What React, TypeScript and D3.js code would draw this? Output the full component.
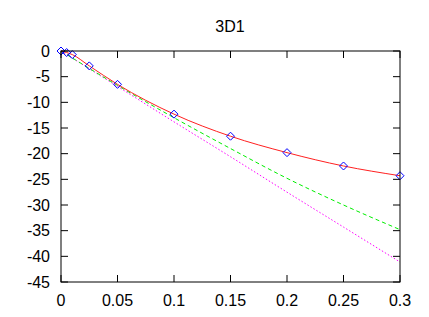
import React, { useEffect, useRef } from 'react';
import * as d3 from 'd3';

// measured points (marked with diamonds)
const measX = [0, 0.005, 0.01, 0.025, 0.05, 0.1, 0.15, 0.2, 0.25, 0.3];
const measY = [0, -0.3, -0.7, -2.9, -6.5, -12.3, -16.6, -19.8, -22.4, -24.3];

// approximation curves
const approxX = [0, 0.05, 0.1, 0.15, 0.2, 0.25, 0.3];
const greenY = [0, -6.7, -13.0, -19.0, -24.8, -30.0, -34.8];
const magentaY = [0, -6.9, -13.8, -20.6, -27.5, -34.3, -41.1];

const xTicks = [0, 0.05, 0.1, 0.15, 0.2, 0.25, 0.3];
const yTicks = [0, -5, -10, -15, -20, -25, -30, -35, -40, -45];

const App: React.FC = () => {
  const svgRef = useRef<SVGSVGElement>(null);

  useEffect(() => {
    if (!svgRef.current) return;
    const svg = d3.select(svgRef.current);
    svg.selectAll('*').remove();

    const left = 61, right = 400, top = 51, bottom = 282;
    const x = d3.scaleLinear().domain([0, 0.3]).range([left, right]);
    const y = d3.scaleLinear().domain([-45, 0]).range([bottom, top]);
    const font = 'Liberation Sans, Arial, sans-serif';
    const tick = 7;

    // title
    svg.append('text')
      .attr('x', 230).attr('y', 32)
      .attr('text-anchor', 'middle')
      .style('font-family', font).style('font-size', '16px')
      .text('3D1');

    const lineFn = (xs: number[], ys: number[], curve: d3.CurveFactory) =>
      d3.line<number>().x((d) => x(xs[d])).y((d) => y(ys[d])).curve(curve)(d3.range(xs.length));

    // curves
    svg.append('path')
      .attr('d', lineFn(approxX, magentaY, d3.curveMonotoneX))
      .attr('fill', 'none').attr('stroke', '#ff00ff').attr('stroke-width', 1)
      .attr('stroke-dasharray', '1.5,2');
    svg.append('path')
      .attr('d', lineFn(approxX, greenY, d3.curveMonotoneX))
      .attr('fill', 'none').attr('stroke', '#00ee00').attr('stroke-width', 1)
      .attr('stroke-dasharray', '4,3');
    svg.append('path')
      .attr('d', lineFn(measX, measY, d3.curveMonotoneX))
      .attr('fill', 'none').attr('stroke', '#ff2020').attr('stroke-width', 1);

    // diamonds
    svg.append('g').selectAll('path')
      .data(d3.range(measX.length))
      .enter().append('path')
      .attr('transform', (i) => `translate(${x(measX[i])},${y(measY[i])})`)
      .attr('d', 'M0,-4L4,0L0,4L-4,0Z')
      .attr('fill', 'none').attr('stroke', '#0000ff').attr('stroke-width', 1);

    // border
    svg.append('rect')
      .attr('x', left).attr('y', top)
      .attr('width', right - left).attr('height', bottom - top)
      .attr('fill', 'none').attr('stroke', '#000').attr('stroke-width', 1);

    // x ticks (bottom and top)
    const gx = svg.append('g');
    xTicks.forEach((t) => {
      gx.append('line').attr('x1', x(t)).attr('x2', x(t)).attr('y1', bottom).attr('y2', bottom - tick).attr('stroke', '#000');
      gx.append('line').attr('x1', x(t)).attr('x2', x(t)).attr('y1', top).attr('y2', top + tick).attr('stroke', '#000');
      gx.append('text')
        .attr('x', x(t)).attr('y', bottom + 24)
        .attr('text-anchor', 'middle')
        .style('font-family', font).style('font-size', '16px')
        .text(String(t));
    });

    // y ticks (left and right)
    const gy = svg.append('g');
    yTicks.forEach((t) => {
      gy.append('line').attr('x1', left).attr('x2', left + tick).attr('y1', y(t)).attr('y2', y(t)).attr('stroke', '#000');
      gy.append('line').attr('x1', right).attr('x2', right - tick).attr('y1', y(t)).attr('y2', y(t)).attr('stroke', '#000');
      gy.append('text')
        .attr('x', left - 11).attr('y', y(t))
        .attr('dy', '0.36em')
        .attr('text-anchor', 'end')
        .style('font-family', font).style('font-size', '16px')
        .text(String(t));
    });
  }, []);

  return (
    <svg ref={svgRef} width={429} height={317}
      style={{ position: 'absolute', left: 0, top: 0, background: '#fff' }} />
  );
};

export default App;
